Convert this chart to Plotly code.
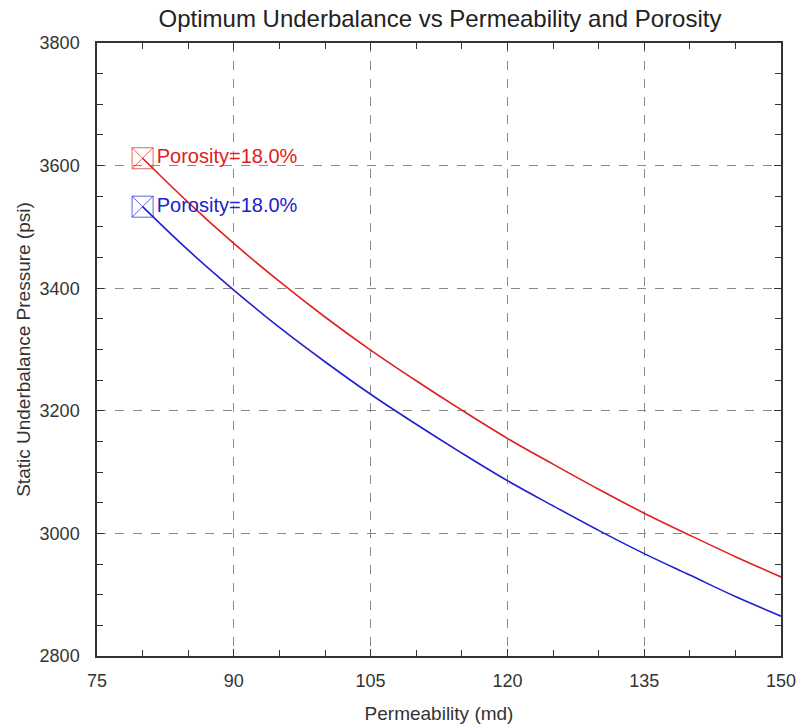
import plotly.graph_objects as go

permeability = [80, 85, 90, 95, 100, 105, 110, 115, 120, 125, 130, 135, 140, 145, 150]
red_pressure = [3612, 3540, 3473, 3411, 3353, 3299, 3249, 3201, 3155, 3113, 3072, 3033, 2997, 2962, 2929]
blue_pressure = [3533, 3462, 3397, 3336, 3280, 3227, 3178, 3131, 3086, 3045, 3005, 2967, 2932, 2897, 2865]
labels = ["Porosity=18.0%", "Porosity=18.0%"]

RED = "#e02020"
BLUE = "#2020d0"

fig = go.Figure()
fig.add_trace(go.Scatter(x=permeability, y=red_pressure, mode="lines",
                         line=dict(color=RED, width=1.6, shape="spline"), showlegend=False))
fig.add_trace(go.Scatter(x=permeability, y=blue_pressure, mode="lines",
                         line=dict(color=BLUE, width=1.6, shape="spline"), showlegend=False))
fig.add_trace(go.Scatter(x=[permeability[0]], y=[red_pressure[0]], mode="markers+text",
                         marker=dict(symbol="square-x-open", size=21, color=RED, opacity=0.7,
                                     line=dict(width=1)),
                         text=[labels[0]], textposition="middle right",
                         textfont=dict(color=RED, size=20), showlegend=False))
fig.add_trace(go.Scatter(x=[permeability[0]], y=[blue_pressure[0]], mode="markers+text",
                         marker=dict(symbol="square-x-open", size=21, color=BLUE, opacity=0.7,
                                     line=dict(width=1)),
                         text=[labels[1]], textposition="middle right",
                         textfont=dict(color=BLUE, size=20), showlegend=False))

axis_common = dict(showline=True, linecolor="#333", linewidth=1.5, mirror="ticks",
                   ticks="inside", ticklen=7, tickcolor="#333", automargin=False,
                   showgrid=True, gridcolor="#8a8a8a", griddash="dash", gridwidth=1,
                   zeroline=False, tickfont=dict(size=18, color="#333"))

fig.update_xaxes(range=[75, 150], tickvals=[75, 90, 105, 120, 135, 150],
                 ticklabelstandoff=8,
                 minor=dict(dtick=5, tick0=75, ticks="inside", ticklen=6, tickcolor="#333", showgrid=False),
                 title=dict(text="Permeability (md)", font=dict(size=19, color="#333"), standoff=16),
                 **axis_common)
fig.update_yaxes(range=[2800, 3800], tickvals=[2800, 3000, 3200, 3400, 3600, 3800],
                 ticklabelstandoff=12,
                 minor=dict(dtick=50, tick0=2800, ticks="inside", ticklen=6, tickcolor="#333", showgrid=False),
                 title=dict(text="Static Underbalance Pressure (psi)", font=dict(size=19, color="#333"), standoff=4),
                 **axis_common)

fig.update_layout(
    width=800, height=728,
    margin=dict(l=97, r=19, t=43, b=72),
    paper_bgcolor="white", plot_bgcolor="white",
    font=dict(family="Liberation Sans, Arial, sans-serif", color="#222"),
    title=dict(text="Optimum Underbalance vs Permeability and Porosity",
               x=0.55, xanchor="center", y=0.975, yanchor="middle",
               font=dict(size=24, color="#222")),
)

fig.write_html("out.html")
